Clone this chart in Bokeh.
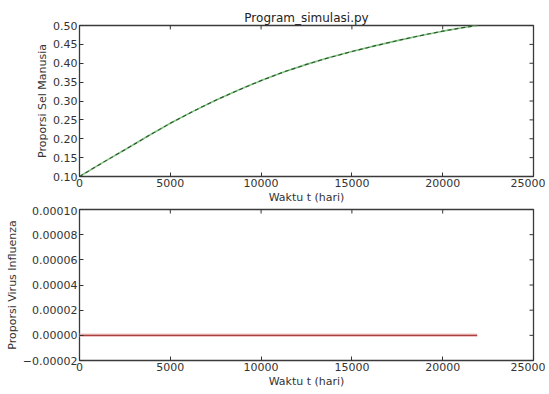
from bokeh.plotting import figure
from bokeh.layouts import column
from bokeh.models import FixedTicker, CustomJSTickFormatter, Range1d
from bokeh.embed import file_html
from bokeh.resources import INLINE

# data
t_days = [0, 1250, 2500, 3750, 5000, 6250, 7500, 8750, 10000,
          11250, 12500, 13750, 15000, 16250, 17500, 18750, 20000, 21000, 21900]
sel_manusia = [0.100, 0.136, 0.171, 0.2065, 0.241, 0.2725, 0.302, 0.329, 0.354,
               0.377, 0.397, 0.415, 0.431, 0.446, 0.460, 0.473, 0.485, 0.4935, 0.500]
virus = [0.0] * len(t_days)

x_ticks = [0, 5000, 10000, 15000, 20000, 25000]
y1_ticks = [0.10, 0.15, 0.20, 0.25, 0.30, 0.35, 0.40, 0.45, 0.50]
y2_ticks = [-0.00002, 0.0, 0.00002, 0.00004, 0.00006, 0.00008, 0.00010]

FONT = "DejaVu Sans"
TXT = "#333333"
X0, X1 = 0, 25000


def style(p, yticks, ydigits, y0, y1, frame_h):
    p.outline_line_color = "#3a3a3a"
    p.outline_line_width = 1.3
    p.xgrid.visible = False
    p.ygrid.visible = False
    p.background_fill_color = "white"
    p.border_fill_color = "white"
    fmt_y = CustomJSTickFormatter(code="""
        var v = Math.abs(tick) < 1e-12 ? 0 : tick;
        var s = v.toFixed(%d);
        return s.replace('-', '\\u2212');
    """ % ydigits)
    fmt_x = CustomJSTickFormatter(code="return Math.round(tick).toString();")
    for ax in p.xaxis:
        ax.ticker = FixedTicker(ticks=x_ticks)
        ax.formatter = fmt_x
    for ax in p.yaxis:
        ax.ticker = FixedTicker(ticks=yticks)
        ax.formatter = fmt_y
    for ax in list(p.xaxis) + list(p.yaxis):
        ax.major_tick_in = 4
        ax.major_tick_out = 0
        ax.minor_tick_line_color = None
        ax.axis_line_color = None
        ax.major_tick_line_color = "#333333"
        ax.major_label_text_font = FONT
        ax.major_label_text_font_size = "11px"
        ax.major_label_text_color = TXT
        ax.axis_label_text_font = FONT
        ax.axis_label_text_font_size = "11px"
        ax.axis_label_text_font_style = "normal"
        ax.axis_label_text_color = TXT
        ax.major_label_standoff = 2
        ax.axis_label_standoff = 1
    # mirrored inward ticks on top and right (4 px long)
    dy = (y1 - y0) * 4.0 / frame_h
    dx = (X1 - X0) * 4.0 / 454.0
    p.segment(x0=x_ticks, y0=[y1] * len(x_ticks), x1=x_ticks, y1=[y1 - dy] * len(x_ticks),
              line_color="#333333", line_width=1)
    p.segment(x0=[X1] * len(yticks), y0=yticks, x1=[X1 - dx] * len(yticks), y1=yticks,
              line_color="#333333", line_width=1)


p1 = figure(width=545, height=206, output_backend="svg", toolbar_location=None,
            x_range=Range1d(X0, X1), y_range=Range1d(0.10, 0.50),
            min_border_left=79, min_border_right=12, min_border_top=25, min_border_bottom=28)
p1.title.text = "Program_simulasi.py"
p1.title.align = "center"
p1.title.text_font = FONT
p1.title.text_font_size = "12px"
p1.title.text_font_style = "normal"
p1.title.text_color = "#222222"
p1.title.standoff = 2
p1.line(t_days, sel_manusia, line_color="#7acc7a", line_width=1.6)
p1.line(t_days, sel_manusia, line_color="#3a4a3a", line_width=1.1, line_dash="4 3")
p1.xaxis.axis_label = "Waktu t (hari)"
p1.yaxis.axis_label = "Proporsi Sel Manusia"
style(p1, y1_ticks, 2, 0.10, 0.50, 153.0)

p2 = figure(width=545, height=184, output_backend="svg", toolbar_location=None,
            x_range=Range1d(X0, X1), y_range=Range1d(-0.00002, 0.00010),
            min_border_left=79, min_border_right=12, min_border_top=3, min_border_bottom=30)
p2.line(t_days, virus, line_color="#f0c4c4", line_width=3.5)
p2.line(t_days, virus, line_color="#a84040", line_width=1.3)
p2.xaxis.axis_label = "Waktu t (hari)"
p2.yaxis.axis_label = "Proporsi Virus Influenza"
style(p2, y2_ticks, 5, -0.00002, 0.00010, 151.0)

layout = column(p1, p2, spacing=0)
open("out.html", "w").write(file_html(layout, INLINE))
